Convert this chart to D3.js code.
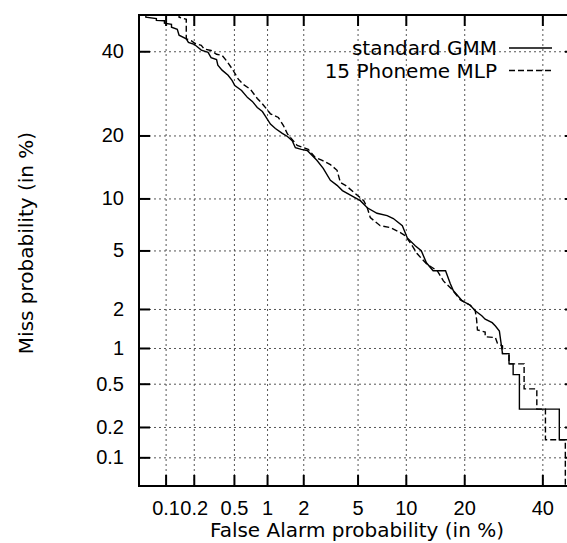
<!DOCTYPE html>
<html>
<head>
<meta charset="utf-8">
<script src="https://cdn.jsdelivr.net/npm/d3@7"></script>
<style>
  body { margin: 0; background: #fff; }
  svg { display: block; font-family: "DejaVu Sans", sans-serif; }
  .grid line { stroke: #555; stroke-width: 1; stroke-dasharray: 2,3; }
  .grid path { display: none; }
  .ax path { display: none; }
  .ax line { stroke: #000; stroke-width: 2; }
  .ax text { font-size: 20px; fill: #000; }
</style>
</head>
<body>
<div id="chart"></div>
<script>
// DET curve data, in % (false alarm, miss)
var seriesNames = ["standard GMM", "15 Phoneme MLP"];

var gmmFa   = [0.06, 0.06, 0.079, 0.079, 0.097, 0.097, 0.116, 0.116, 0.134, 0.14, 0.167, 0.176, 0.202, 0.222, 0.239,
               0.28, 0.30, 0.34, 0.35, 0.385, 0.44, 0.48, 0.51, 0.59, 0.67, 0.74, 0.82, 0.91, 0.96, 1.07,
               1.18, 1.35, 1.49, 1.63, 1.73, 1.93, 2.15, 2.35, 2.55, 2.85, 3.22, 3.6, 3.93, 4.6, 5.22,
               5.8, 6.7, 7.75, 8.45, 9.55, 10.2, 11.3, 12.2, 13.0, 14.1, 16.3, 17.2, 17.8, 19.6, 21.3,
               22.4, 23.9, 24.7, 26.4, 27.2, 28.2, 29.0, 30.7, 30.7, 31.8, 31.8, 33.5, 33.5, 45.0, 45.0, 50];
var gmmMiss = [50.5, 49.4, 49.0, 48.5, 48.4, 47.7, 47.4, 46.6, 46.0, 44.4, 43.4, 42.4, 41.9, 41.0, 40.3,
               39.7, 38.3, 37.8, 36.3, 35.0, 33.7, 32.4, 31.1, 29.9, 28.2, 27.3, 25.9, 25.0, 24.1, 22.3,
               21.4, 20.4, 19.8, 19.0, 17.7, 17.4, 17.2, 16.3, 15.5, 14.2, 12.4, 11.7, 11.0, 10.3, 9.73,
               8.9, 8.3, 8.05, 7.75, 7.05, 5.97, 5.35, 4.98, 4.17, 3.70, 3.70, 3.02, 2.70, 2.29, 2.13,
               1.94, 1.78, 1.68, 1.58, 1.49, 1.36, 0.90, 0.90, 0.74, 0.74, 0.60, 0.60, 0.295, 0.295, 0.15, 0.15];

var mlpFa   = [0.14, 0.14, 0.167, 0.167, 0.188, 0.207, 0.239, 0.256, 0.30, 0.34, 0.385, 0.435, 0.49, 0.55, 0.61,
               0.71, 0.82, 0.92, 1.07, 1.25, 1.38, 1.49, 1.79, 2.19, 2.48, 2.80, 3.22, 3.6, 3.80, 4.2,
               4.7, 5.5, 5.8, 6.07, 7.02, 8.1, 9.3, 9.93, 10.6, 11.6, 13.0, 14.8, 15.9, 17.4, 19.2,
               21.3, 22.4, 22.7, 22.9, 24.7, 24.7, 27.2, 27.7, 29.0, 29.0, 30.7, 30.7, 34.8, 34.8, 38.4,
               38.4, 40.9, 40.9, 46.8, 46.8];
var mlpMiss = [50.5, 49.4, 48.8, 43.4, 42.9, 42.1, 41.6, 40.6, 40.2, 39.2, 38.9, 37.1, 35.0, 32.7, 31.4,
               30.2, 28.0, 26.6, 24.5, 23.7, 22.0, 20.3, 18.1, 17.4, 16.0, 15.5, 14.8, 13.9, 12.1, 11.6,
               10.8, 9.73, 8.9, 7.85, 7.05, 6.87, 6.42, 6.15, 5.58, 4.76, 4.11, 3.70, 3.16, 2.79, 2.33,
               2.13, 1.94, 1.68, 1.39, 1.34, 1.23, 1.21, 1.09, 1.04, 0.90, 0.90, 0.74, 0.74, 0.45, 0.45,
               0.295, 0.295, 0.15, 0.15, 0.04];

var tickValues = [0.1, 0.2, 0.5, 1, 2, 5, 10, 20, 40];
var tickLabels = ["0.1", "0.2", "0.5", "1", "2", "5", "10", "20", "40"];
var axisRange  = [0.05, 50];

// inverse of the normal cdf (Acklam), gives the normal deviate of p
function probit(p) {
  var a = [-3.969683028665376e+01, 2.209460984245205e+02, -2.759285104469687e+02, 1.383577518672690e+02, -3.066479806614716e+01, 2.506628277459239e+00];
  var b = [-5.447609879822406e+01, 1.615858368580409e+02, -1.556989798598866e+02, 6.680131188771972e+01, -1.328068155288572e+01];
  var c = [-7.784894002430293e-03, -3.223964580411365e-01, -2.400758277161838e+00, -2.549732539343734e+00, 4.374664141464968e+00, 2.938163982698783e+00];
  var d = [7.784695709041462e-03, 3.224671290700398e-01, 2.445134137142996e+00, 3.754408661907416e+00];
  var q, r;
  if (p < 0.02425) {
    q = Math.sqrt(-2 * Math.log(p));
    return (((((c[0]*q+c[1])*q+c[2])*q+c[3])*q+c[4])*q+c[5]) / ((((d[0]*q+d[1])*q+d[2])*q+d[3])*q+1);
  }
  if (p > 1 - 0.02425) {
    q = Math.sqrt(-2 * Math.log(1 - p));
    return -(((((c[0]*q+c[1])*q+c[2])*q+c[3])*q+c[4])*q+c[5]) / ((((d[0]*q+d[1])*q+d[2])*q+d[3])*q+1);
  }
  q = p - 0.5; r = q * q;
  return (((((a[0]*r+a[1])*r+a[2])*r+a[3])*r+a[4])*r+a[5])*q / (((((b[0]*r+b[1])*r+b[2])*r+b[3])*r+b[4])*r+1);
}
function pct(v) { return probit(v / 100); }

var margin = {left: 139, top: 15, right: 0, bottom: 57};
var w = 437, h = 471;

var svg = d3.select("#chart").append("svg")
    .attr("width", 567)
    .attr("height", 543);

var g = svg.append("g")
    .attr("transform", "translate(" + margin.left + "," + margin.top + ")");

// normal deviate scales
var x = d3.scaleLinear().domain(axisRange.map(pct)).range([0, w]);
var y = d3.scaleLinear().domain(axisRange.map(pct)).range([h, 0]);
var probTicks = tickValues.map(pct);
var fmt = function(d, i) { return tickLabels[i]; };

// grid
g.append("g").attr("class", "grid")
    .attr("transform", "translate(0," + h + ")")
    .call(d3.axisBottom(x).tickValues(probTicks).tickSize(-h).tickFormat(""));
g.append("g").attr("class", "grid")
    .call(d3.axisLeft(y).tickValues(probTicks).tickSize(-w).tickFormat(""));

// curves
g.append("clipPath").attr("id", "clip")
  .append("rect").attr("width", w).attr("height", h);

var line = d3.line()
    .x(function(d) { return x(pct(d[0])); })
    .y(function(d) { return y(pct(d[1])); });

var gmm = d3.zip(gmmFa, gmmMiss);
var mlp = d3.zip(mlpFa, mlpMiss);

g.append("path")
    .datum(gmm)
    .attr("clip-path", "url(#clip)")
    .attr("fill", "none")
    .attr("stroke", "#000")
    .attr("stroke-width", 1.4)
    .attr("d", line);

g.append("path")
    .datum(mlp)
    .attr("clip-path", "url(#clip)")
    .attr("fill", "none")
    .attr("stroke", "#000")
    .attr("stroke-width", 1.4)
    .attr("stroke-dasharray", "6,3")
    .attr("d", line);

// axes, ticks pointing inward
g.append("g").attr("class", "ax")
    .attr("transform", "translate(0," + h + ")")
    .call(d3.axisBottom(x).tickValues(probTicks).tickSizeInner(-11).tickSizeOuter(0).tickPadding(15).tickFormat(fmt));
g.append("g").attr("class", "ax")
    .call(d3.axisLeft(y).tickValues(probTicks).tickSizeInner(-11).tickSizeOuter(0).tickPadding(15).tickFormat(fmt));
g.append("g").attr("class", "ax")
    .call(d3.axisTop(x).tickValues(probTicks).tickSizeInner(-11).tickSizeOuter(0).tickFormat(""));
g.append("g").attr("class", "ax")
    .attr("transform", "translate(" + w + ",0)")
    .call(d3.axisRight(y).tickValues(probTicks).tickSizeInner(-11).tickSizeOuter(0).tickFormat(""));

g.append("rect")
    .attr("width", w).attr("height", h)
    .attr("fill", "none")
    .attr("stroke", "#000")
    .attr("stroke-width", 2);

// axis titles
svg.append("text")
    .attr("x", 357).attr("y", 537)
    .attr("text-anchor", "middle")
    .attr("font-size", 20)
    .text("False Alarm probability (in %)");

svg.append("text")
    .attr("transform", "translate(33,243) rotate(-90)")
    .attr("text-anchor", "middle")
    .attr("font-size", 20)
    .text("Miss probability (in %)");

// legend
var legend = g.selectAll("g.legend")
    .data(seriesNames)
    .enter().append("g")
      .attr("class", "legend")
      .attr("transform", function(d, i) { return "translate(0," + (33 + i * 22.5) + ")"; });

legend.append("text")
    .attr("x", 358).attr("y", 7)
    .attr("text-anchor", "end")
    .attr("font-size", 20)
    .text(function(d) { return d; });

legend.append("line")
    .attr("x1", 370).attr("x2", 413)
    .attr("stroke", "#000")
    .attr("stroke-width", 1.4)
    .attr("stroke-dasharray", function(d, i) { return i ? "6,3" : null; });
</script>
</body>
</html>
